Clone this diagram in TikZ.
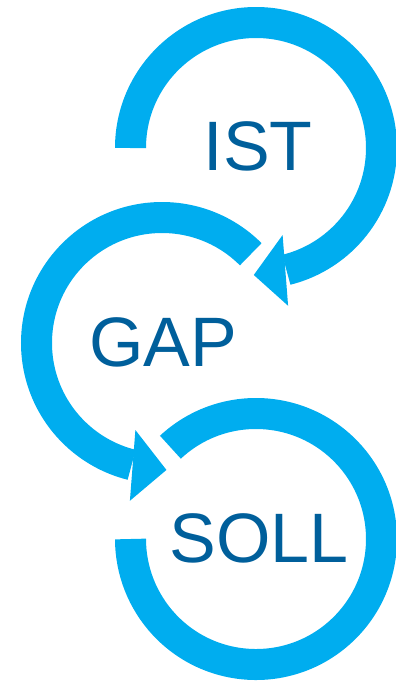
\documentclass[tikz,border=0pt]{standalone}
\usepackage{fontspec}
\setmainfont{Liberation Sans}
\usetikzlibrary{calc}

\definecolor{ringblue}{HTML}{00ADEF}
\definecolor{textblue}{HTML}{005F9B}

\tikzset{
  ring/.style={draw=ringblue,line width=31pt},
  head/.style={fill=ringblue},
  stagetext/.style={text=textblue,font=\fontsize{70}{70}\selectfont,inner sep=0pt}
}

\begin{document}
\begin{tikzpicture}[x=1pt,y=1pt]
  \useasboundingbox (0,0) rectangle (396,-681);

  \coordinate (ist c) at (256,-148);
  \coordinate (gap c) at (162,-343);
  \coordinate (soll c) at (256,-539);

  % IST, clockwise from the left
  \draw[ring] ($(ist c)+(180:125.5)$) arc[start angle=180,end angle=-76,radius=125.5];
  \coordinate (ist base) at ($(ist c)+(-76:125.5)$);
  \coordinate (ist tip) at ($(ist c)+(-91:127)$);
  \fill[head] ($(ist c)+(-73:91)$) -- (ist tip) -- ($(ist c)+(-78.5:161)$) -- cycle;

  % GAP, counter-clockwise from upper right
  \draw[ring] ($(gap c)+(45:125.5)$) arc[start angle=45,end angle=256,radius=125.5];
  \coordinate (gap base) at ($(gap c)+(256:125.5)$);
  \coordinate (gap tip) at ($(gap c)+(272:127)$);
  \fill[head] ($(gap c)+(253:91)$) -- (gap tip) -- ($(gap c)+(258.5:161)$) -- cycle;

  % SOLL, clockwise, no head
  \draw[ring] ($(soll c)+(133:125.5)$) arc[start angle=133,end angle=-180,radius=125.5];

  \node[stagetext] (ist) at (258,-146) {IST};
  \node[stagetext] (gap) at (163,-342) {GAP};
  \node[stagetext] (soll) at (259,-538) {SOLL};
\end{tikzpicture}
\end{document}
